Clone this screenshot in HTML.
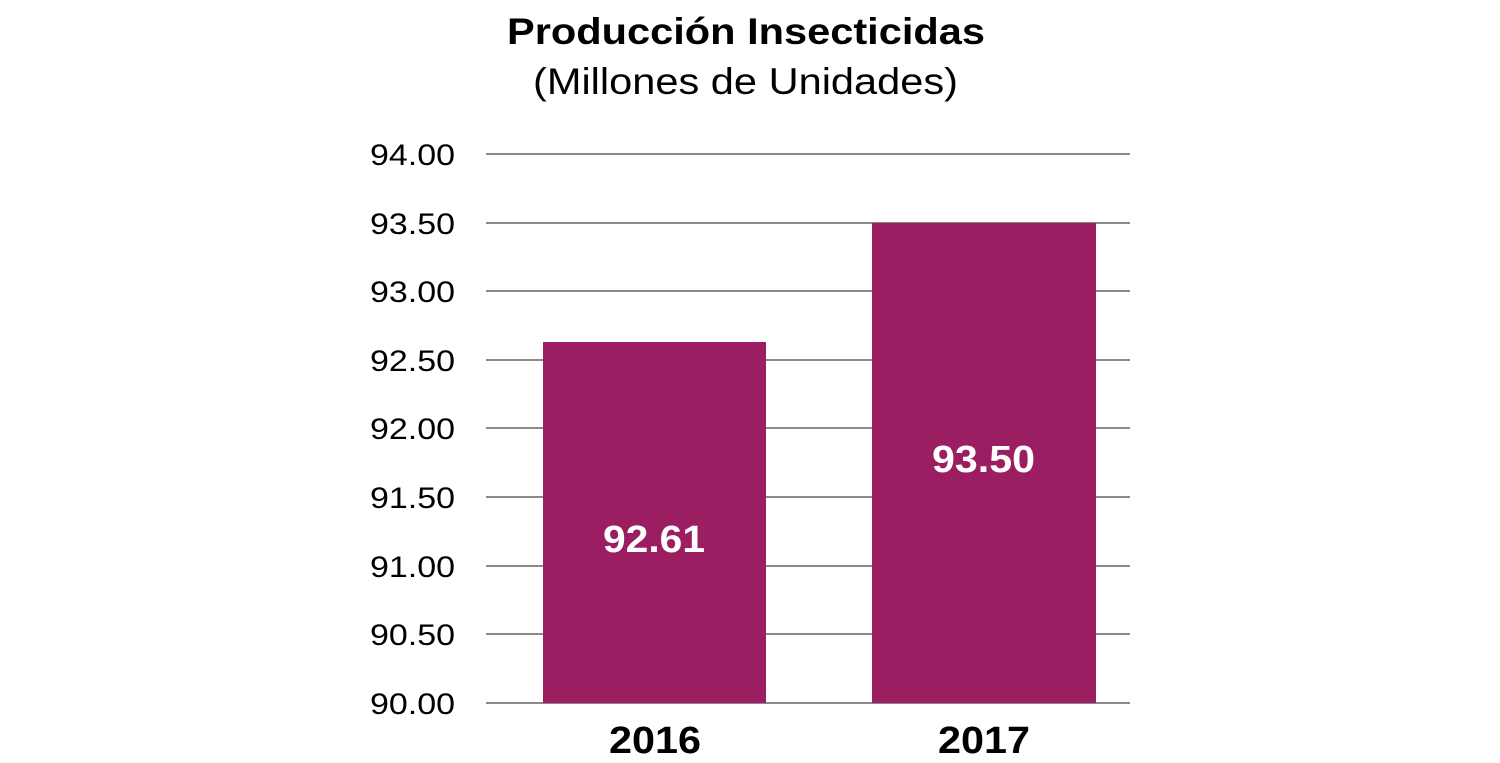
<!DOCTYPE html>
<html><head><meta charset="utf-8"><style>
html,body{margin:0;padding:0;background:#fff;}
svg{display:block;font-family:"Liberation Sans",Arial,sans-serif;}
</style></head><body>
<svg width="1500" height="763" viewBox="0 0 1500 763">
<text x="507" y="44" textLength="478" lengthAdjust="spacingAndGlyphs" font-size="37" font-weight="bold" fill="#000">Producción Insecticidas</text>
<text x="533" y="94" textLength="425" lengthAdjust="spacingAndGlyphs" font-size="37" fill="#000">(Millones de Unidades)</text>
<g stroke="#8a8a8a" stroke-width="2">
<line x1="486" x2="1130" y1="154" y2="154"/>
<line x1="486" x2="1130" y1="223" y2="223"/>
<line x1="486" x2="1130" y1="291" y2="291"/>
<line x1="486" x2="1130" y1="360" y2="360"/>
<line x1="486" x2="1130" y1="428" y2="428"/>
<line x1="486" x2="1130" y1="497" y2="497"/>
<line x1="486" x2="1130" y1="566" y2="566"/>
<line x1="486" x2="1130" y1="634" y2="634"/>
<line x1="486" x2="1130" y1="703" y2="703"/>
</g>
<rect x="543" y="342" width="223" height="361" fill="#9c1e62"/>
<rect x="872" y="223" width="224" height="480" fill="#9c1e62"/>
<g font-size="30" fill="#000">
<text x="370" y="165" textLength="85" lengthAdjust="spacingAndGlyphs">94.00</text>
<text x="370" y="234" textLength="85" lengthAdjust="spacingAndGlyphs">93.50</text>
<text x="370" y="302" textLength="85" lengthAdjust="spacingAndGlyphs">93.00</text>
<text x="370" y="371" textLength="85" lengthAdjust="spacingAndGlyphs">92.50</text>
<text x="370" y="439" textLength="85" lengthAdjust="spacingAndGlyphs">92.00</text>
<text x="370" y="508" textLength="85" lengthAdjust="spacingAndGlyphs">91.50</text>
<text x="370" y="577" textLength="85" lengthAdjust="spacingAndGlyphs">91.00</text>
<text x="370" y="645" textLength="85" lengthAdjust="spacingAndGlyphs">90.50</text>
<text x="370" y="714" textLength="85" lengthAdjust="spacingAndGlyphs">90.00</text>
</g>
<g font-size="38" font-weight="bold" fill="#fff">
<text x="603" y="552" textLength="102" lengthAdjust="spacingAndGlyphs">92.61</text>
<text x="932" y="472" textLength="103" lengthAdjust="spacingAndGlyphs">93.50</text>
</g>
<g font-size="38" font-weight="bold" fill="#000">
<text x="609" y="753" textLength="92" lengthAdjust="spacingAndGlyphs">2016</text>
<text x="938" y="753" textLength="92" lengthAdjust="spacingAndGlyphs">2017</text>
</g>
</svg>
</body></html>
